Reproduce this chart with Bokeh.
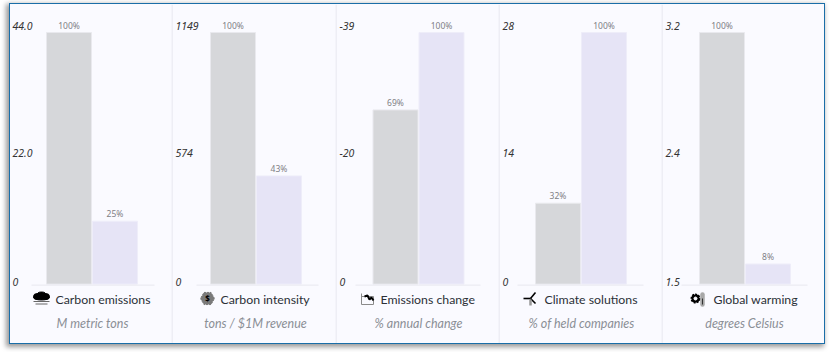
from bokeh.embed import file_html
from bokeh.resources import INLINE
from bokeh.layouts import row
from bokeh.models import Range1d
from bokeh.plotting import figure
from bokeh.core.properties import value

titles = ["Carbon emissions", "Carbon intensity", "Emissions change", "Climate solutions", "Global warming"]
subtitles = ["M metric tons", "tons / $1M revenue", "% annual change", "% of held companies", "degrees Celsius"]
axis_low = [0, 0, 0, 0, 1.5]
axis_high = [44.0, 1149, -39, 28, 3.2]
tick_labels = [["0", "22.0", "44.0"], ["0", "574", "1149"], ["0", "-20", "-39"], ["0", "14", "28"], ["1.5", "2.4", "3.2"]]
grey_values = [44.0, 1149, -27, 9, 3.2]
purple_values = [11, 494, -39, 28, 1.636]
grey_pct = ["100%", "100%", "69%", "32%", "100%"]
purple_pct = ["25%", "43%", "100%", "100%", "8%"]

BG, DIV, GREY, PURPLE = "#fafaff", "#eeeef5", "#d6d7da", "#e6e4f6"
FONT = "Noto Sans"
FONT2 = "Lato"
panel_left = [10, 173, 337, 500, 663]
panel_w = [163, 164, 163, 163, 161]
bar_start = [46, 210, 372.5, 535, 699]
axis_span = [(31, 154), (196, 318), (355, 480), (517, 643), (681, 807)]
title_x = [55, 220, 380, 544, 713]
sub_x = [92, 255, 418, 581, 744]
TOP, H = 4, 339
BASE_Y, MAX_Y = 283.6, 32
PITCH, BW = 46, 45


def icon(p, i, L):
    kw = dict(x_range_name="px", y_range_name="px")
    X = lambda a: [v - L for v in a]
    Y = lambda a: [v - TOP for v in a]
    if i == 0:
        p.ellipse(X([37, 41, 45, 41]), Y([296, 294.5, 296, 297]), width=[8, 9, 8, 16], height=[6, 6, 6, 5], color="black", **kw)
        p.segment(X([33, 35]), Y([301, 303.5]), X([49, 47]), Y([301, 303.5]), line_color="#666666", line_width=1, **kw)
    elif i == 1:
        p.scatter(X([207]), Y([298]), marker="hex", size=14, color="#7a7a7a", line_dash="2 1", **kw)
        p.text(X([207]), Y([298]), text=["$"], text_font=value(FONT), text_font_size="8px", text_font_style="bold",
               text_align="center", text_baseline="middle", text_color="black", **kw)
    elif i == 2:
        p.line(X([361, 361, 373, 373, 361]), Y([293, 304, 304, 296, 296]), line_color="#8a8a8a", line_width=1, **kw)
        p.line(X([364, 367, 369, 371, 373]), Y([296, 295, 299, 297, 300]), line_color="black", line_width=2, **kw)
    elif i == 3:
        p.segment(X([530, 530, 530]), Y([298, 298, 298]), X([523, 535, 535]), Y([298, 292, 303]), line_color="black", line_width=1.6, **kw)
        p.segment(X([530]), Y([299]), X([530]), Y([305]), line_color="#999999", line_width=2.5, **kw)
    else:
        p.scatter(X([695]), Y([298]), marker="circle", size=8, fill_color="black", line_color="black", line_width=2, line_dash="2 1", **kw)
        p.scatter(X([695]), Y([298]), marker="circle", size=3, color=BG, **kw)
        p.segment(X([702]), Y([294]), X([702]), Y([304]), line_color="#a8a8a8", line_width=4.5, line_cap="round", **kw)
        p.segment(X([702]), Y([298]), X([702]), Y([304]), line_color="#333333", line_width=1, **kw)


figs = []
for i in range(5):
    L, W = panel_left[i], panel_w[i]
    lo, hi = axis_low[i], axis_high[i]
    unit = (hi - lo) / (BASE_Y - MAX_Y)
    y_start = lo - (TOP + H - BASE_Y) * unit
    y_end = hi + (MAX_Y - TOP) * unit
    c0 = bar_start[i] + BW / 2 - L
    x_start = -c0 / PITCH
    p = figure(width=W, height=H, output_backend="svg", toolbar_location=None,
               x_range=Range1d(x_start, x_start + W / PITCH), y_range=Range1d(y_start, y_end),
               min_border=0, background_fill_color=BG, border_fill_color=BG, outline_line_color=None)
    p.axis.visible = False
    p.grid.visible = False
    p.extra_x_ranges["px"] = Range1d(0, W)
    p.extra_y_ranges["px"] = Range1d(H, 0)
    px = dict(x_range_name="px", y_range_name="px")

    p.vbar(x=[0, 1], top=[grey_values[i], purple_values[i]], bottom=lo, width=BW / PITCH,
           fill_color=[GREY, PURPLE], line_color=["#e9e9ee", "#eeedf9"], line_width=1)
    p.text(x=[0, 1], y=[grey_values[i], purple_values[i]], text=[grey_pct[i], purple_pct[i]],
           text_font=value(FONT), text_font_size="8.5px", text_color="#808085",
           text_align="center", text_baseline="bottom", y_offset=-2)
    p.text(x=[2] * 3, y=[lo, (lo + hi) / 2, hi], text=tick_labels[i], x_range_name="px",
           text_font=value(FONT), text_font_size="10.5px", text_font_style="italic", text_color="#333333",
           text_align="left", text_baseline="middle", y_offset=[-2, -5, -7])

    a, b = axis_span[i]
    p.segment([a - L], [BASE_Y - TOP + 1], [b - L], [BASE_Y - TOP + 1], line_color="#e8e8ef", line_width=1, **px)
    if i < 4:
        p.segment([W - 1], [0], [W - 1], [H], line_color=DIV, line_width=2, **px)

    icon(p, i, L)
    p.text([title_x[i] - L], [299 - TOP], text=[titles[i]], text_font=value(FONT2), text_font_size="12.3px",
           text_color="#2b3037", text_align="left", text_baseline="middle", **px)
    p.text([sub_x[i] - L], [322.5 - TOP], text=[subtitles[i]], text_font=value(FONT2), text_font_size="12.5px",
           text_font_style="italic", text_color="#8b8f96", text_align="center", text_baseline="middle", **px)
    figs.append(p)

layout = row(*figs, spacing=0, margin=(3, 0, 0, 9),
             styles={"border": "1px solid #1a6ea8", "box-shadow": "-2px 2px 5px 1px rgba(0,0,0,0.4)",
                     "background": BG, "box-sizing": "content-box"})
open("out.html", "w").write(file_html(layout, INLINE))
